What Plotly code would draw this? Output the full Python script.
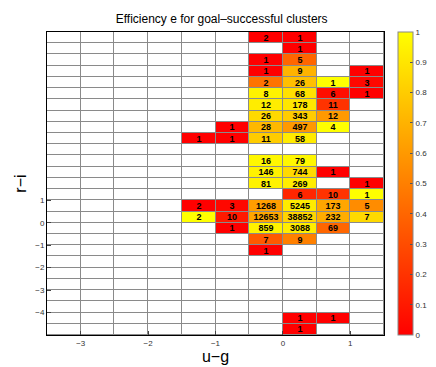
import numpy as np
import plotly.graph_objects as go

# bin edges (u-g columns, r-i rows), bin width 0.5
ug_edges = np.arange(-3.5, 1.51, 0.5)
ri_edges = np.arange(-5.0, 8.51, 0.5)

# filled cells: lower edge of bin in u-g and r-i, number of clusters, efficiency
cell_ri = [8.0, 8.0, 7.5, 7.0, 7.0, 6.5, 6.5, 6.5,
           6.0, 6.0, 6.0, 6.0, 5.5, 5.5, 5.5, 5.5,
           5.0, 5.0, 5.0, 4.5, 4.5, 4.5,
           4.0, 4.0, 4.0, 4.0, 3.5, 3.5, 3.5, 3.5,
           2.5, 2.5, 2.0, 2.0, 2.0, 1.5, 1.5, 1.5,
           1.0, 1.0, 1.0,
           0.5, 0.5, 0.5, 0.5, 0.5, 0.5,
           0.0, 0.0, 0.0, 0.0, 0.0, 0.0,
           -0.5, -0.5, -0.5, -0.5, -1.0, -1.0, -1.5,
           -4.5, -4.5, -5.0]
cell_ug = [-0.5, 0.0, 0.0, -0.5, 0.0, -0.5, 0.0, 1.0,
           -0.5, 0.0, 0.5, 1.0, -0.5, 0.0, 0.5, 1.0,
           -0.5, 0.0, 0.5, -0.5, 0.0, 0.5,
           -1.0, -0.5, 0.0, 0.5, -1.5, -1.0, -0.5, 0.0,
           -0.5, 0.0, -0.5, 0.0, 0.5, -0.5, 0.0, 1.0,
           0.0, 0.5, 1.0,
           -1.5, -1.0, -0.5, 0.0, 0.5, 1.0,
           -1.5, -1.0, -0.5, 0.0, 0.5, 1.0,
           -1.0, -0.5, 0.0, 0.5, -0.5, 0.0, -0.5,
           0.0, 0.5, 0.0]
cell_n = [2, 1, 1, 1, 5, 1, 9, 1,
          2, 26, 1, 3, 8, 68, 6, 1,
          12, 178, 11, 26, 343, 12,
          1, 28, 497, 4, 1, 1, 11, 58,
          16, 79, 146, 744, 1, 81, 269, 1,
          6, 10, 1,
          2, 3, 1268, 5245, 173, 5,
          2, 10, 12653, 38852, 232, 7,
          1, 859, 3088, 69, 7, 9, 1,
          1, 1, 1]
cell_eff = [0.0, 0.0, 0.0, 0.0, 0.4, 0.0, 0.7, 0.0,
            0.45, 0.75, 1.0, 0.03, 0.95, 0.88, 0.05, 0.0,
            0.93, 0.9, 0.2, 0.85, 0.8, 0.6,
            0.0, 0.72, 0.6, 1.0, 0.0, 0.0, 0.8, 0.92,
            0.97, 0.97, 0.95, 0.85, 0.0, 0.95, 0.93, 0.0,
            0.15, 0.2, 1.0,
            0.0, 0.03, 0.62, 0.92, 0.65, 0.55,
            1.0, 0.1, 0.65, 0.83, 0.68, 0.85,
            0.0, 0.95, 0.93, 0.4, 0.35, 0.5, 0.0,
            0.0, 0.0, 0.0]

ug_c = (ug_edges[:-1] + ug_edges[1:]) / 2
ri_c = (ri_edges[:-1] + ri_edges[1:]) / 2

z = np.full((len(ri_c), len(ug_c)), np.nan)
txt = np.full((len(ri_c), len(ug_c)), "", dtype=object)
for ri, ug, n, e in zip(cell_ri, cell_ug, cell_n, cell_eff):
    i = int(round((ri - ri_edges[0]) / 0.5))
    j = int(round((ug - ug_edges[0]) / 0.5))
    z[i, j] = e
    txt[i, j] = str(n)

fig = go.Figure()
# white cells with grey gaps as grid
fig.add_trace(go.Heatmap(x=ug_c, y=ri_c, z=np.zeros_like(z),
                         colorscale=[[0, "white"], [1, "white"]],
                         showscale=False, xgap=1, ygap=1, hoverinfo="skip"))
fig.add_trace(go.Heatmap(
    x=ug_c, y=ri_c, z=z, text=txt, texttemplate="%{text}",
    textfont=dict(family="Liberation Sans", size=9, color="black", weight="bold"),
    colorscale=[[0, "rgb(255,0,0)"], [1, "rgb(255,255,0)"]],
    zmin=0, zmax=1, xgap=1, ygap=1,
    colorbar=dict(x=1.043, xanchor="left", xpad=0, y=0, yanchor="bottom",
                  len=1, lenmode="fraction", ypad=0, thickness=15,
                  outlinecolor="#888", outlinewidth=1,
                  tickvals=np.round(np.arange(0, 1.01, 0.1), 1),
                  ticktext=["0", "0.1", "0.2", "0.3", "0.4", "0.5", "0.6", "0.7", "0.8", "0.9", "1"],
                  ticks="inside", ticklen=3, tickcolor="#555",
                  tickfont=dict(size=8, color="#333"))))

fig.update_layout(
    width=436, height=367,
    margin=dict(l=39, r=50, t=24, b=34),
    paper_bgcolor="white", plot_bgcolor="#8a8a8a",
    font=dict(family="Liberation Sans", color="black"),
    title=dict(text="Efficiency e for goal\u2013successful clusters", x=0.49, xanchor="center",
               y=0.97, yanchor="middle", font=dict(size=12)),
)
fig.update_xaxes(range=[-3.5, 1.5], tickvals=[-3, -2, -1, 0, 1],
                 ticktext=["\u22123", "\u22122", "\u22121", "0", "1"],
                 ticks="inside", ticklen=4, showgrid=False, zeroline=False,
                 showline=True, linecolor="black", mirror=True,
                 tickfont=dict(size=8, color="#333"),
                 title=dict(text="u\u2212g", font=dict(size=16), standoff=4))
fig.update_yaxes(range=[-5, 8.5], tickvals=[-4, -3, -2, -1, 0, 1],
                 ticktext=["\u22124", "\u22123", "\u22122", "\u22121", "0", "1"],
                 ticks="inside", ticklen=4, showgrid=False, zeroline=False,
                 showline=True, linecolor="black", mirror=True,
                 tickfont=dict(size=8, color="#333"),
                 title=dict(text="r\u2212i", font=dict(size=16), standoff=4))

fig.write_html("out.html")
